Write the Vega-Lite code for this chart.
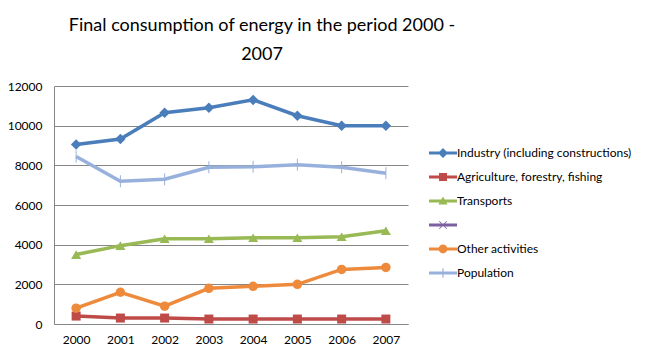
{
  "$schema": "https://vega.github.io/schema/vega-lite/v6.json",
  "width": 354,
  "height": 238,
  "autosize": {"type": "none"},
  "padding": {"left": 54, "top": 86, "right": 245, "bottom": 35},
  "background": "white",
  "title": {
    "text": ["Final consumption of energy in the period 2000 -", "2007"],
    "font": "Lato",
    "fontSize": 18,
    "fontWeight": "normal",
    "color": "#000000",
    "anchor": "middle",
    "dx": 31,
    "offset": 16,
    "lineHeight": 29
  },
  "config": {
    "view": {"stroke": null},
    "font": "Lato"
  },
  "data": {
    "values": [
      {"year": "2000", "series": "Industry (including constructions)", "value": 9050},
      {"year": "2001", "series": "Industry (including constructions)", "value": 9330},
      {"year": "2002", "series": "Industry (including constructions)", "value": 10650},
      {"year": "2003", "series": "Industry (including constructions)", "value": 10900},
      {"year": "2004", "series": "Industry (including constructions)", "value": 11300},
      {"year": "2005", "series": "Industry (including constructions)", "value": 10500},
      {"year": "2006", "series": "Industry (including constructions)", "value": 10000},
      {"year": "2007", "series": "Industry (including constructions)", "value": 10000},
      {"year": "2000", "series": "Agriculture, forestry, fishing", "value": 400},
      {"year": "2001", "series": "Agriculture, forestry, fishing", "value": 300},
      {"year": "2002", "series": "Agriculture, forestry, fishing", "value": 300},
      {"year": "2003", "series": "Agriculture, forestry, fishing", "value": 250},
      {"year": "2004", "series": "Agriculture, forestry, fishing", "value": 250},
      {"year": "2005", "series": "Agriculture, forestry, fishing", "value": 250},
      {"year": "2006", "series": "Agriculture, forestry, fishing", "value": 250},
      {"year": "2007", "series": "Agriculture, forestry, fishing", "value": 250},
      {"year": "2000", "series": "Transports", "value": 3500},
      {"year": "2001", "series": "Transports", "value": 3950},
      {"year": "2002", "series": "Transports", "value": 4300},
      {"year": "2003", "series": "Transports", "value": 4300},
      {"year": "2004", "series": "Transports", "value": 4350},
      {"year": "2005", "series": "Transports", "value": 4350},
      {"year": "2006", "series": "Transports", "value": 4400},
      {"year": "2007", "series": "Transports", "value": 4700},
      {"year": "2000", "series": "Other activities", "value": 800},
      {"year": "2001", "series": "Other activities", "value": 1600},
      {"year": "2002", "series": "Other activities", "value": 900},
      {"year": "2003", "series": "Other activities", "value": 1800},
      {"year": "2004", "series": "Other activities", "value": 1900},
      {"year": "2005", "series": "Other activities", "value": 2000},
      {"year": "2006", "series": "Other activities", "value": 2750},
      {"year": "2007", "series": "Other activities", "value": 2850},
      {"year": "2000", "series": "Population", "value": 8450},
      {"year": "2001", "series": "Population", "value": 7200},
      {"year": "2002", "series": "Population", "value": 7300},
      {"year": "2003", "series": "Population", "value": 7900},
      {"year": "2004", "series": "Population", "value": 7930},
      {"year": "2005", "series": "Population", "value": 8030},
      {"year": "2006", "series": "Population", "value": 7900},
      {"year": "2007", "series": "Population", "value": 7600}
    ]
  },
  "encoding": {
    "x": {
      "field": "year",
      "type": "ordinal",
      "scale": {"type": "point", "padding": 0.5},
      "axis": {
        "title": null,
        "labelAngle": 0,
        "labelFont": "Lato",
        "labelFontSize": 12,
        "labelColor": "#000000",
        "labelPadding": 10,
        "ticks": false,
        "grid": false,
        "domainColor": "#868686",
        "domainWidth": 1
      }
    },
    "y": {
      "field": "value",
      "type": "quantitative",
      "scale": {"domain": [0, 12000], "nice": false},
      "axis": {
        "title": null,
        "values": [0, 2000, 4000, 6000, 8000, 10000, 12000],
        "format": "d",
        "labelFont": "Lato",
        "labelFontSize": 12,
        "labelColor": "#000000",
        "labelPadding": 12,
        "ticks": false,
        "grid": true,
        "gridColor": "#868686",
        "gridWidth": 1,
        "domainColor": "#868686",
        "domainWidth": 1
      }
    },
    "color": {
      "field": "series",
      "type": "nominal",
      "scale": {
        "domain": ["Industry (including constructions)", "Agriculture, forestry, fishing", "Transports", " ", "Other activities", "Population"],
        "range": ["#4A7EBB", "#BE4B48", "#98B954", "#7D60A0", "#EE8A3C", "#97B1DC"]
      },
      "legend": {
        "title": null,
        "orient": "none",
        "legendX": 383,
        "legendY": 61,
        "padding": 0,
        "symbolSize": 64,
        "labelOffset": 8,
        "labelFont": "Lato",
        "labelFontSize": 12,
        "labelColor": "#000000",
        "rowPadding": 12,
        "labelLimit": 300,
        "encode": {
          "symbols": {
            "update": {
              "shape": {"signal": "['M-3.5,-0.375H3.5V0.375H-3.5Z M0,-1.25L1.25,0L0,1.25L-1.25,0Z','M-3.5,-0.375H3.5V0.375H-3.5Z M-1,-1H1V1H-1Z','M-3.5,-0.375H3.5V0.375H-3.5Z M0,-1.1L1.15,0.9H-1.15Z','M-3.5,-0.375H3.5V0.375H-3.5Z M-1,-0.85L-0.85,-1L1,0.85L0.85,1Z M0.85,-1L1,-0.85L-0.85,1L-1,0.85Z','M-3.5,-0.375H3.5V0.375H-3.5Z M1.1,0A1.1,1.1 0 1,1 -1.1,0A1.1,1.1 0 1,1 1.1,0Z','M-3.5,-0.375H3.5V0.375H-3.5Z M-0.15,-1.2H0.15V1.2H-0.15Z'][datum.index]"},
              "fill": {"signal": "scale('color', datum.value)"},
              "fillOpacity": {"value": 1},
              "strokeWidth": {"value": 0}
            }
          }
        }
      }
    }
  },
  "layer": [
    {
      "mark": {"type": "line", "strokeWidth": 3.5}
    },
    {
      "transform": [{"filter": "datum.series == 'Industry (including constructions)'"}],
      "mark": {"type": "point", "filled": true, "opacity": 1, "shape": "diamond", "size": 110}
    },
    {
      "transform": [{"filter": "datum.series == 'Agriculture, forestry, fishing'"}],
      "mark": {"type": "point", "filled": true, "opacity": 1, "shape": "square", "size": 81}
    },
    {
      "transform": [{"filter": "datum.series == 'Transports'"}],
      "mark": {"type": "point", "filled": true, "opacity": 1, "shape": "triangle-up", "size": 100}
    },
    {
      "transform": [{"filter": "datum.series == 'Other activities'"}],
      "mark": {"type": "point", "filled": true, "opacity": 1, "shape": "circle", "size": 90}
    },
    {
      "transform": [{"filter": "datum.series == 'Population'"}],
      "mark": {"type": "point", "filled": true, "opacity": 1, "shape": "M-0.1,-1.2H0.1V1.2H-0.1Z", "size": 100}
    }
  ]
}
